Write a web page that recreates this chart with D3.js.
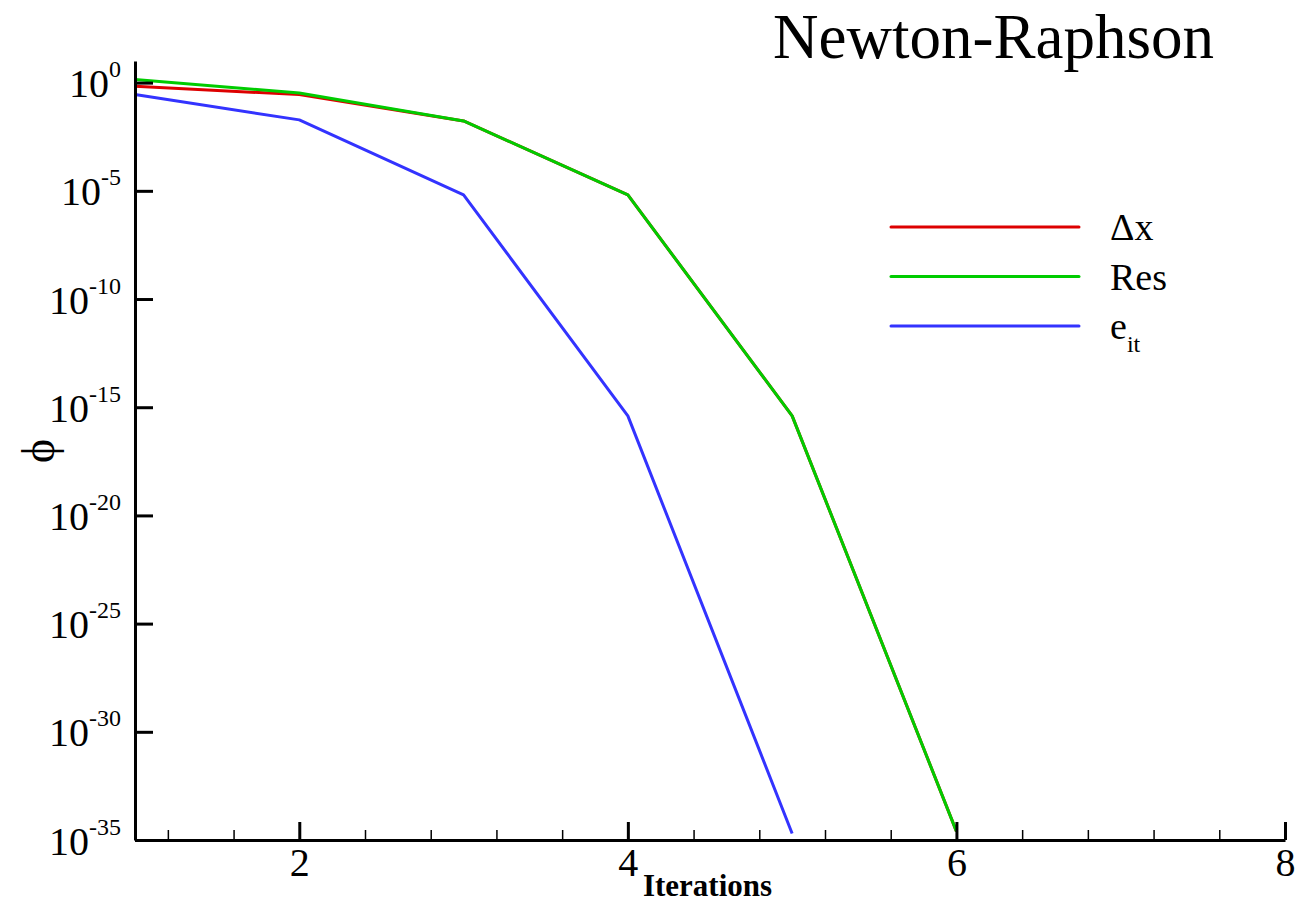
<!DOCTYPE html>
<html>
<head>
<meta charset="utf-8">
<script src="https://cdn.jsdelivr.net/npm/d3@7"></script>
<style>
  body { margin: 0; background: #fff; }
  svg, svg text { font-family: "Liberation Serif", "Times New Roman", serif; }
</style>
</head>
<body>
<div id="container"></div>
<script>
/* CONSTANTS AND GLOBALS */
const width = 1296,
  height = 905,
  margin = { top: 61, bottom: 65, left: 135, right: 11 }

/* DATA */
const iterations = [1, 2, 3, 4, 5, 6]
const deltaX = [0.68, 0.28, 0.017, 6.5e-6, 4e-16, 2.5e-35]
const residual = [1.38, 0.33, 0.017, 6.5e-6, 4e-16, 2.5e-35]
const eitIterations = [1, 2, 3, 4, 5]
const eit = [0.28, 0.019, 6.5e-6, 4e-16, 2e-35]

const xMajorTicks = [2, 4, 6, 8]
const yTickExponents = [0, -5, -10, -15, -20, -25, -30, -35]

const seriesNames = ["\u0394x", "Res", "e"]
const seriesColors = ["#dd0000", "#00cc00", "#3333ff"]

// minor ticks every 0.4, skipping the labelled ones
const xMinorTicks = d3.range(3, 20).filter(i => i % 5 !== 0).map(i => i * 0.4)

/* SCALES */
const xScale = d3.scaleLinear()
  .domain([1, 8])
  .range([margin.left, width - margin.right])

const yScale = d3.scaleLog()
  .domain([1e-35, 10])
  .range([height - margin.bottom, margin.top])

/* SVG */
const svg = d3.select("#container")
  .append("svg")
  .attr("width", width)
  .attr("height", height)

// LINES
const lineGen = d3.line()
  .x(d => xScale(d[0]))
  .y(d => yScale(d[1]))

const series = [
  d3.zip(iterations, deltaX),
  d3.zip(iterations, residual),
  d3.zip(eitIterations, eit)
]

svg.selectAll(".line")
  .data(series)
  .join("path")
  .attr("class", "line")
  .attr("fill", "none")
  .attr("stroke", (d, i) => seriesColors[i])
  .attr("stroke-width", 3)
  .attr("stroke-linejoin", "round")
  .attr("d", d => lineGen(d))

// AXES
const xAxisMinor = d3.axisBottom(xScale)
  .tickValues(xMinorTicks)
  .tickSize(-10)
  .tickSizeOuter(0)
  .tickFormat("")

svg.append("g")
  .attr("class", "xAxisMinor")
  .attr("transform", `translate(0, ${height - margin.bottom})`)
  .call(xAxisMinor)
  .call(g => g.select(".domain").remove())
  .call(g => g.selectAll("line").attr("stroke-width", 1.5))

const xAxis = d3.axisBottom(xScale)
  .tickValues(xMajorTicks)
  .tickSize(-18)
  .tickSizeOuter(0)
  .tickPadding(8)
  .tickFormat(d3.format("d"))

const xAxisGroup = svg.append("g")
  .attr("class", "xAxis")
  .attr("transform", `translate(0, ${height - margin.bottom})`)
  .call(xAxis)
  .attr("font-family", null)
  .attr("font-size", null)

xAxisGroup.select(".domain").attr("stroke-width", 3)
xAxisGroup.selectAll(".tick line").attr("stroke-width", 3)
xAxisGroup.selectAll(".tick text")
  .style("font-size", "40px")
  .attr("fill", "black")

xAxisGroup.append("text")
  .attr("class", "xLabel")
  .text("Iterations")
  .attr("x", 643)
  .attr("y", 56)
  .attr("textLength", 129)
  .attr("lengthAdjust", "spacingAndGlyphs")
  .attr("text-anchor", "start")
  .attr("font-weight", "bold")
  .style("font-size", "32px")
  .attr("fill", "black")

const yAxis = d3.axisLeft(yScale)
  .tickValues(yTickExponents.map(e => Math.pow(10, e)))
  .tickSize(-18)
  .tickSizeOuter(0)
  .tickFormat("")

const yAxisGroup = svg.append("g")
  .attr("class", "yAxis")
  .attr("transform", `translate(${margin.left}, 0)`)
  .call(yAxis)
  .attr("font-family", null)
  .attr("font-size", null)

yAxisGroup.select(".domain").attr("stroke-width", 3)
yAxisGroup.selectAll(".tick line").attr("stroke-width", 3)

// tick labels as 10 with a superscript exponent
yAxisGroup.selectAll(".tick")
  .append("text")
  .attr("x", -14)
  .attr("y", 14)
  .attr("fill", "black")
  .attr("text-anchor", "end")
  .each(function(d) {
    const t = d3.select(this)
    const e = Math.round(Math.log10(d))
    t.append("tspan").style("font-size", "40px").text("10")
    t.append("tspan").attr("dy", -20).style("font-size", "24px").text(e === 0 ? "0" : "-" + Math.abs(e))
  })

yAxisGroup.append("text")
  .attr("class", "yLabel")
  .attr("transform", `translate(${-97}, ${451}) rotate(-90)`)
  .attr("dy", "0.35em")
  .text("\u03D5")
  .attr("fill", "black")
  .attr("text-anchor", "middle")
  .style("font-size", "46px")

// TITLE
svg.append("text")
  .attr("x", 1214)
  .attr("y", 58)
  .attr("text-anchor", "end")
  .style("font-size", "63px")
  .attr("fill", "black")
  .text("Newton-Raphson")

// LEGEND
const legend = svg.append("g")
  .attr("class", "legend")
  .attr("transform", "translate(891, 227)")

const legendItems = legend.selectAll("g")
  .data(seriesNames)
  .join("g")
  .attr("transform", (d, i) => `translate(0, ${i * 49.5})`)

legendItems.append("line")
  .attr("x1", 0)
  .attr("x2", 188)
  .attr("stroke", (d, i) => seriesColors[i])
  .attr("stroke-width", 3)
  .attr("stroke-linecap", "round")

legendItems.append("text")
  .attr("x", 219)
  .attr("y", 13)
  .style("font-size", "38px")
  .attr("fill", "black")
  .each(function(d, i) {
    const t = d3.select(this)
    t.append("tspan").text(d)
    if (i === 2) {
      t.append("tspan").attr("dy", 13).style("font-size", "24px").text("it")
    }
  })
</script>
</body>
</html>
